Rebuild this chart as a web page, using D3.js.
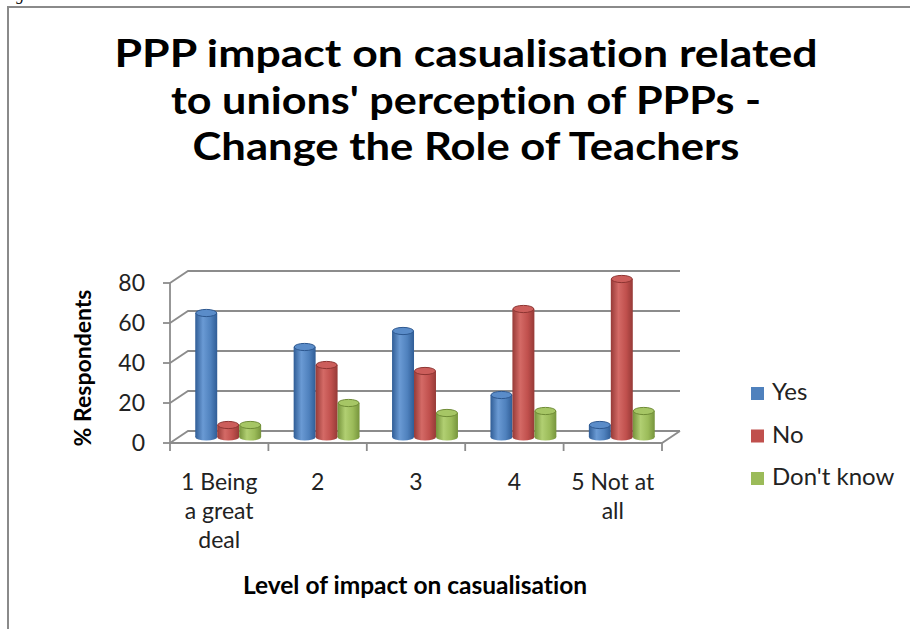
<!DOCTYPE html>
<html>
<head>
<meta charset="utf-8">
<script src="https://cdn.jsdelivr.net/npm/d3@7"></script>
<style>
  html, body { margin: 0; padding: 0; background: #fff; }
  svg { display: block; font-family: Lato, "Open Sans", sans-serif; font-variant-ligatures: none; }
</style>
</head>
<body>
<script>
// data
const categories = ["1 Being a great deal", "2", "3", "4", "5 Not at all"];
const categoryLines = [["1 Being", "a great", "deal"], ["2"], ["3"], ["4"], ["5 Not at", "all"]];
const seriesNames = ["Yes", "No", "Don't know"];
const yesValues = [62, 45, 53, 21, 6];
const noValues = [6, 36, 33, 64, 79];
const dontKnowValues = [6, 17, 12, 13, 13];
const yTicks = [0, 20, 40, 60, 80];
const titleLines = ["PPP impact on casualisation related", "to unions' perception of PPPs -", "Change the Role of Teachers"];
const titleWidths = [703, 590, 547];
const yTitle = "% Respondents";
const xTitle = "Level of impact on casualisation";

const seriesValues = [yesValues, noValues, dontKnowValues];
const colors = [
  { dark: "#305d96", mid: "#4f81bd", light: "#6a9ad4", top: "#5a8cc9", rim: "#2d5890" },
  { dark: "#963a37", mid: "#c0504d", light: "#d46a66", top: "#cc5e5b", rim: "#8e3532" },
  { dark: "#76943c", mid: "#9bbb59", light: "#b1cf72", top: "#a6c665", rim: "#6f8c36" }
];

const WIDTH = 910, HEIGHT = 629;
const DX = 18, DY = -12; // depth of the 3d box

const svg = d3.select("body").append("svg")
  .attr("width", WIDTH).attr("height", HEIGHT);

// frame of the figure (caption above is cut off in the original)
svg.append("text").attr("x", 2).attr("y", 0)
  .style("font-family", "Liberation Serif").style("font-style", "italic")
  .style("font-size", "16px").text("Figure 6");
svg.append("path").attr("d", "M8,629V7H910")
  .attr("fill", "none").attr("stroke", "#8a8a8a").attr("stroke-width", 2);

// title
svg.append("g").selectAll("text").data(titleLines).enter().append("text")
  .attr("x", 466).attr("y", (d, i) => 67 + i * 46.5)
  .attr("text-anchor", "middle")
  .attr("textLength", (d, i) => titleWidths[i])
  .attr("lengthAdjust", "spacingAndGlyphs")
  .style("font-size", "38px").style("font-weight", "bold")
  .text(d => d);

const x = d3.scaleBand().domain(categories).range([170, 662]);
const xs = d3.scaleBand().domain(seriesNames).range([0, x.bandwidth()]).paddingOuter(0.74);
const y = d3.scaleLinear().domain([0, 80]).range([443, 283]);
const yMid = v => y(v) + DY / 2;

const grid = svg.append("g").attr("fill", "none").attr("stroke", "#8c8c8c").attr("stroke-width", 1.8);
const [x0, x1] = x.range();

// gridlines on side wall and back wall
grid.selectAll(".grid").data(yTicks).enter().append("path")
  .attr("class", "grid")
  .attr("d", d => "M" + x0 + "," + y(d) + "L" + (x0 + DX) + "," + (y(d) + DY) + "H" + (x1 + DX));

// floor
grid.append("path")
  .attr("d", "M" + x0 + "," + y(0) + "H" + x1 + "L" + (x1 + DX) + "," + (y(0) + DY));

// y axis line and ticks
grid.append("path").attr("d", "M" + x0 + "," + y(80) + "V" + y(0));
grid.selectAll(".ytick").data(yTicks).enter().append("path")
  .attr("d", d => "M" + (x0 - 7) + "," + y(d) + "H" + x0);

// category ticks
const bounds = categories.map(c => x(c)).concat([x1]);
grid.selectAll(".xtick").data(bounds).enter().append("path")
  .attr("d", d => "M" + d + "," + y(0) + "V" + (y(0) + 8));

// y tick labels
svg.append("g").selectAll("text").data(yTicks).enter().append("text")
  .attr("x", 145).attr("y", d => y(d)).attr("dy", "0.35em")
  .attr("text-anchor", "end")
  .style("font-size", "23px").style("fill", "#222")
  .text(d => d);

// gradients for the cylinders
const defs = svg.append("defs");
colors.forEach((c, i) => {
  const g = defs.append("linearGradient").attr("id", "cyl" + i)
    .attr("x1", 0).attr("x2", 1).attr("y1", 0).attr("y2", 0);
  g.append("stop").attr("offset", "0").attr("stop-color", c.dark);
  g.append("stop").attr("offset", "0.35").attr("stop-color", c.light);
  g.append("stop").attr("offset", "0.7").attr("stop-color", c.mid);
  g.append("stop").attr("offset", "1").attr("stop-color", c.dark);
});

// bars as cylinders
const bars = [];
categories.forEach((cat, ci) => {
  seriesNames.forEach((s, si) => {
    bars.push({ cat: cat, s: s, si: si, v: seriesValues[si][ci] });
  });
});

const w = xs.bandwidth();
const ry = 3.6;
const cyl = svg.append("g").selectAll("g").data(bars).enter().append("g");
cyl.append("ellipse")
  .attr("cx", d => x(d.cat) + xs(d.s) + DX / 2 + w / 2)
  .attr("cy", yMid(0)).attr("rx", w / 2).attr("ry", ry)
  .attr("fill", d => "url(#cyl" + d.si + ")");
cyl.append("rect")
  .attr("x", d => x(d.cat) + xs(d.s) + DX / 2)
  .attr("y", d => yMid(d.v))
  .attr("width", w)
  .attr("height", d => yMid(0) - yMid(d.v))
  .attr("fill", d => "url(#cyl" + d.si + ")");
cyl.append("ellipse")
  .attr("cx", d => x(d.cat) + xs(d.s) + DX / 2 + w / 2)
  .attr("cy", d => yMid(d.v)).attr("rx", w / 2 - 0.5).attr("ry", ry)
  .attr("fill", d => colors[d.si].top)
  .attr("stroke", d => colors[d.si].rim).attr("stroke-width", 1);

// category labels
const catText = svg.append("g").selectAll("text").data(categories).enter().append("text")
  .attr("text-anchor", "middle")
  .style("font-size", "23px").style("fill", "#222");
catText.selectAll("tspan").data((d, i) => categoryLines[i].map(t => ({ t: t, c: d })))
  .enter().append("tspan")
  .attr("x", d => x(d.c) + x.bandwidth() / 2)
  .attr("y", (d, i) => 490 + i * 29)
  .text(d => d.t);

// axis titles
svg.append("text")
  .attr("transform", "translate(91,368) rotate(-90)")
  .attr("text-anchor", "middle")
  .style("font-size", "23px").style("font-weight", "bold")
  .text(yTitle);
svg.append("text")
  .attr("x", 415).attr("y", 594)
  .attr("text-anchor", "middle")
  .style("font-size", "24.5px").style("font-weight", "bold")
  .text(xTitle);

// legend
const legend = svg.append("g").selectAll("g").data(seriesNames).enter().append("g")
  .attr("transform", (d, i) => "translate(751," + (387 + i * 42.5) + ")");
legend.append("rect").attr("width", 13).attr("height", 13)
  .attr("fill", (d, i) => colors[i].mid);
legend.append("text").attr("x", 21).attr("y", 13)
  .style("font-size", "24px").style("fill", "#222")
  .text(d => d);
</script>
</body>
</html>
